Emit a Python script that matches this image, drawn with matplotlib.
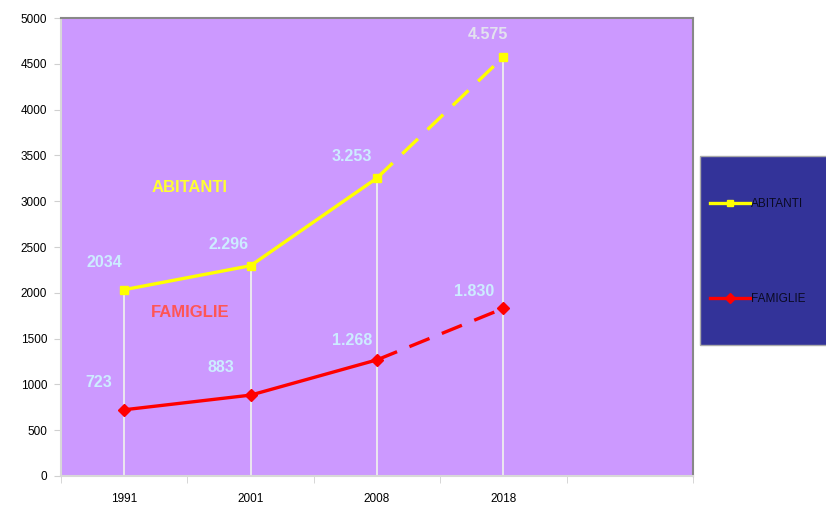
import matplotlib.pyplot as plt
from matplotlib.lines import Line2D
from matplotlib.patches import Rectangle

# Popolazione e famiglie (2018 = stima, tratto tratteggiato)
years = ["1991", "2001", "2008", "2018"]
abitanti = [2034, 2296, 3253, 4575]
famiglie = [723, 883, 1268, 1830]
abitanti_labels = ["2034", "2.296", "3.253", "4.575"]
famiglie_labels = ["723", "883", "1.268", "1.830"]
y_ticks = list(range(0, 5001, 500))

YELLOW = "#FFFF00"
RED = "#FF0000"
PLOT_BG = "#CC99FF"
LEGEND_BG = "#333399"
LABEL_C = "#CCECFF"

plt.rcParams["font.family"] = ["Liberation Sans", "DejaVu Sans"]

fig = plt.figure(figsize=(8.26, 5.13), dpi=100)
ax = fig.add_axes([61 / 826, 37 / 513, 632 / 826, 458 / 513])
ax.set_facecolor(PLOT_BG)

x = list(range(len(years)))

# drop lines from the upper series down to the axis
ax.vlines(x, 0, abitanti, colors="#EEEEEE", linewidth=1.3, zorder=2)

dash = (0, (6.5, 4))
n = len(years) - 1
ax.plot(x[:n], abitanti[:n], color=YELLOW, lw=2.4, zorder=3)
ax.plot(x[n - 1:], abitanti[n - 1:], color=YELLOW, lw=2.4, ls=dash, zorder=3)
ax.plot(x, abitanti, ls="none", marker="s", ms=6, color=YELLOW, zorder=4)

ax.plot(x[:n], famiglie[:n], color=RED, lw=2.4, zorder=3)
ax.plot(x[n - 1:], famiglie[n - 1:], color=RED, lw=2.4, ls=dash, zorder=3)
ax.plot(x, famiglie, ls="none", marker="D", ms=6.5, color=RED, zorder=4)

# value labels (offsets in pixels from each point)
ab_offsets = [(-20, 27), (-22, 21), (-25, 22), (-15, 22)]
fa_offsets = [(-25, 27), (-30, 28), (-25, 19), (-29, 17)]
for xi, v, lab, off in zip(x, abitanti, abitanti_labels, ab_offsets):
    c = "#E2E2EE" if lab == abitanti_labels[-1] else LABEL_C
    ax.annotate(lab, (xi, v), xytext=off, textcoords="offset pixels",
                fontsize=11.5, fontweight="bold", color=c, ha="center", va="center")
for xi, v, lab, off in zip(x, famiglie, famiglie_labels, fa_offsets):
    ax.annotate(lab, (xi, v), xytext=off, textcoords="offset pixels",
                fontsize=11.5, fontweight="bold", color=LABEL_C, ha="center", va="center")

ax.text(0.52, 3150, "ABITANTI", color="#FFFF33", fontsize=12, fontweight="bold",
        ha="center", va="center")
ax.text(0.52, 1790, "FAMIGLIE", color="#FF5555", fontsize=12, fontweight="bold",
        ha="center", va="center")

ax.set_xlim(-0.5, 4.5)
ax.set_ylim(0, 5000)
ax.set_xticks(x)
ax.set_xticklabels(years, fontsize=8.5)
ax.set_xticks([i - 0.5 for i in range(6)], minor=True)
ax.tick_params(axis="x", which="major", length=0, pad=12)
ax.tick_params(axis="x", which="minor", length=5, color="#D0D0D0")
ax.set_yticks(y_ticks)
ax.set_yticklabels([str(t) for t in y_ticks], fontsize=8.5)
ax.tick_params(axis="y", length=5, color="#D0D0D0", pad=5)

for side in ("left", "bottom"):
    ax.spines[side].set_color("#D8D8D8")
    ax.spines[side].set_linewidth(1.5)
for side in ("top", "right"):
    ax.spines[side].set_color("#888888")
    ax.spines[side].set_linewidth(1.5)

# legend panel
fig.patches.append(Rectangle((700 / 826, 1 - 345 / 513), 140 / 826, 189 / 513,
                             transform=fig.transFigure, facecolor=LEGEND_BG,
                             edgecolor="#AAAAAA", linewidth=1.0, zorder=0))
handles = [
    Line2D([], [], color=YELLOW, lw=2.4, marker="s", ms=5),
    Line2D([], [], color=RED, lw=2.4, marker="D", ms=5),
]
fig.legend(handles, ["ABITANTI", "FAMIGLIE"], loc="upper left",
           bbox_to_anchor=(705 / 826, 1 - 193 / 513), frameon=False,
           fontsize=8.5, handlelength=3.4, handletextpad=0.1,
           labelspacing=7.05, labelcolor="#0A0A22", borderaxespad=0)

fig.savefig("out.png", dpi=100)
